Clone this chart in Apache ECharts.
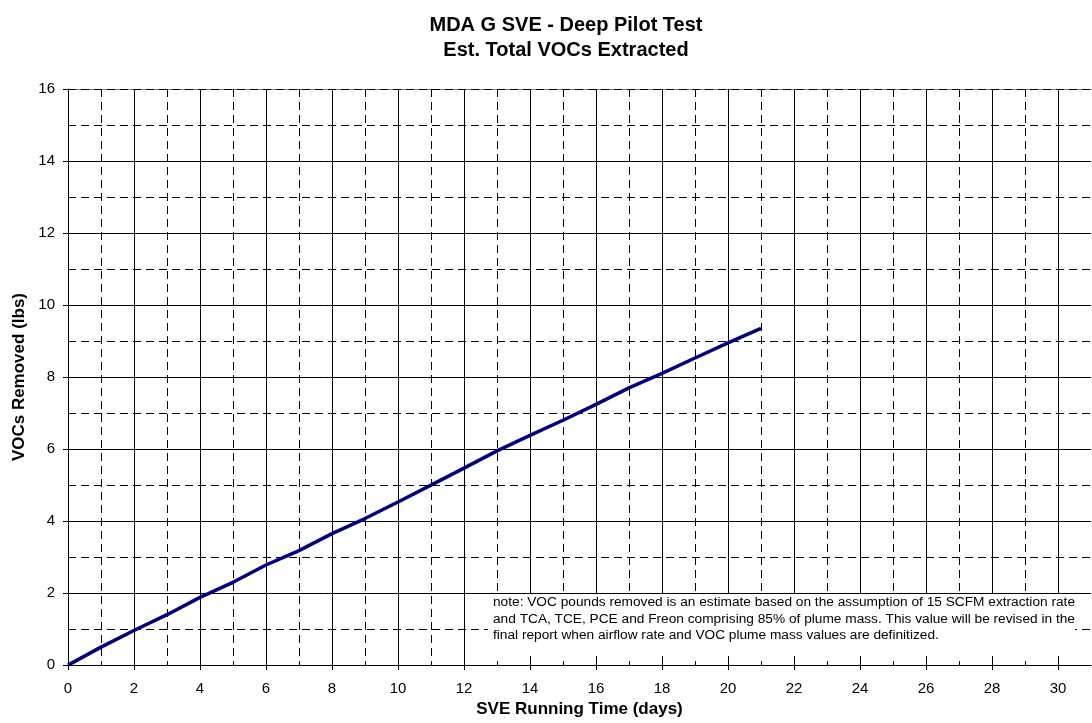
<!DOCTYPE html>
<html><head><meta charset="utf-8">
<script src="https://cdn.jsdelivr.net/npm/echarts@6/dist/echarts.min.js"></script>
<style>html,body{margin:0;padding:0;background:#fff}#c{width:1092px;height:723px}</style>
</head><body><div id="c"></div>
<script>
const days = [0,1,2,3,4,5,6,7,8,9,10,11,12,13,14,15,16,17,18,19,20,21];
const vocsRemoved = [0,0.5,0.96,1.4,1.88,2.3,2.78,3.18,3.65,4.07,4.53,5.0,5.47,5.95,6.38,6.8,7.24,7.7,8.1,8.53,8.95,9.35];
const titleLines = ['MDA G SVE - Deep Pilot Test','Est. Total VOCs Extracted'];
const noteLines = [
 'note: VOC pounds removed is an estimate based on the assumption of 15 SCFM extraction rate',
 'and TCA, TCE, PCE and Freon comprising 85% of plume mass. This value will be revised in the',
 'final report when airflow rate and VOC plume mass values are definitized.'
];
const xName = 'SVE Running Time (days)';
const yName = 'VOCs Removed (lbs)';

const font = "'Liberation Sans', Arial, sans-serif";
const chart = echarts.init(document.getElementById('c'), null, {renderer:'canvas'});
const dash = [8,5];
const yMajorColors = ['#000','#000','#000','#000','#000','#000','#000','#000','#808080'];
const xMajorColors = Array(16).fill('#000').concat(['rgba(0,0,0,0)']);
const xMinorColors = Array(31).fill('#000').concat(['rgba(0,0,0,0)']);
chart.setOption({
  animation:false,
  backgroundColor:'#fff',
  title:{text:titleLines.join('\n'), left:561, top:8, textAlign:'center',
    textStyle:{fontFamily:font, fontSize:20, fontWeight:'bold', color:'#000', lineHeight:25}},
  grid:{left:68, right:1, top:89, bottom:54, containLabel:false},
  xAxis:[{
    type:'value', min:0, max:31, interval:2,
    name:xName, nameLocation:'middle', nameGap:34,
    nameTextStyle:{fontFamily:font, fontSize:17, fontWeight:'bold', color:'#000'},
    axisLine:{show:true, lineStyle:{color:'#000', width:1}},
    axisTick:{show:true, length:5, lineStyle:{color:'#000'}},
    axisLabel:{fontFamily:font, fontSize:15, color:'#000', margin:16, showMaxLabel:false},
    splitLine:{show:true, lineStyle:{color:xMajorColors, width:1}}
  },{
    type:'value', min:0, max:31, interval:1, position:'top',
    axisLine:{show:false}, axisTick:{show:false}, axisLabel:{show:false},
    splitLine:{show:true, lineStyle:{color:xMinorColors, width:1, type:dash}}
  }],
  yAxis:[{
    type:'value', min:0, max:16, interval:2,
    name:yName, nameLocation:'middle', nameGap:40, nameRotate:90,
    nameTextStyle:{fontFamily:font, fontSize:17, fontWeight:'bold', color:'#000'},
    axisLine:{show:true, lineStyle:{color:'#000', width:1}},
    axisTick:{show:true, length:5, lineStyle:{color:'#000'}},
    axisLabel:{fontFamily:font, fontSize:15, color:'#000', margin:13},
    splitLine:{show:true, lineStyle:{color:yMajorColors, width:1}}
  },{
    type:'value', min:0, max:16, interval:1, position:'right',
    axisLine:{show:false}, axisTick:{show:false}, axisLabel:{show:false},
    splitLine:{show:true, lineStyle:{color:'#000', width:1, type:dash}}
  }],
  series:[{
    type:'line', xAxisIndex:0, yAxisIndex:0,
    data:days.map((d,i)=>[d, vocsRemoved[i]]),
    showSymbol:false, symbol:'none', smooth:false,
    lineStyle:{color:'#000080', width:3.5}, z:5
  }],
  graphic:[{
    type:'rect', shape:{x:488, y:594, width:587, height:62},
    style:{fill:'#fff'}, z:10
  },{
    type:'text', x:493, y:594, z:11,
    style:{text:noteLines.join('\n'), font:"13.7px 'Liberation Sans', Arial, sans-serif",
      fill:'#000', lineHeight:16.5}
  }]
});
</script></body></html>
